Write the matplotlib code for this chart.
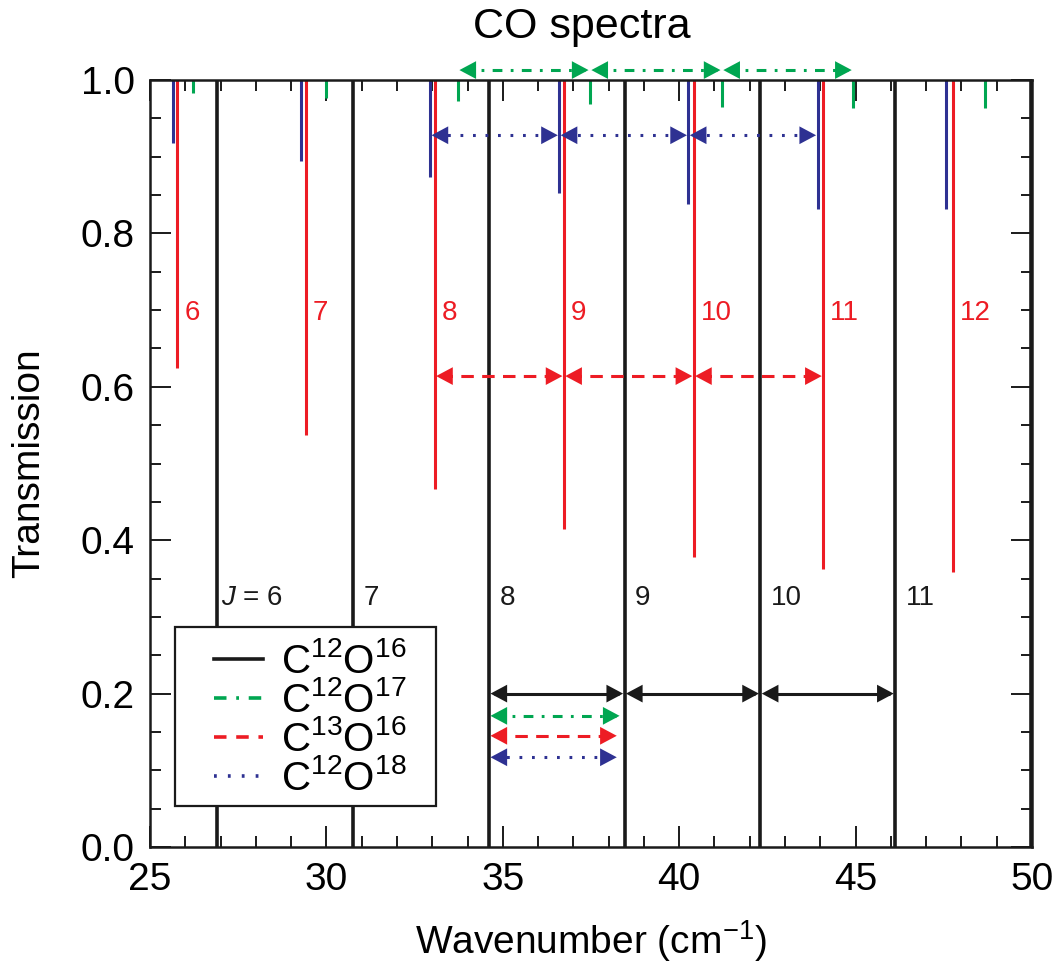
import numpy as np
import matplotlib
matplotlib.use("Agg")
import matplotlib.pyplot as plt
from matplotlib.ticker import MultipleLocator
from matplotlib.patches import Rectangle

plt.rcParams.update({
    "font.family": ["Liberation Sans", "DejaVu Sans"],
    "mathtext.fontset": "custom",
    "mathtext.rm": "Liberation Sans",
    "mathtext.it": "Liberation Sans:italic",
    "lines.scale_dashes": False,
})

# Data (wavenumbers in cm^-1, line-centre transmission)
j_values = [6, 7, 8, 9, 10, 11, 12]

c12o16_nu = [26.90, 30.76, 34.61, 38.45, 42.30, 46.12, 49.97]
c12o16_min = [0.0, 0.0, 0.0, 0.0, 0.0, 0.0, 0.0]

c12o17_nu = [26.22, 29.99, 33.73, 37.47, 41.21, 44.93, 48.67]
c12o17_min = [0.983, 0.977, 0.973, 0.969, 0.965, 0.964, 0.964]

c13o16_nu = [25.77, 29.41, 33.07, 36.73, 40.41, 44.08, 47.75]
c13o16_min = [0.625, 0.537, 0.467, 0.415, 0.378, 0.362, 0.358]

c12o18_nu = [25.64, 29.28, 32.94, 36.60, 40.26, 43.92, 47.57]
c12o18_min = [0.918, 0.895, 0.873, 0.853, 0.839, 0.832, 0.832]

# which lines get spacing arrows (indices into the arrays above)
arrow_idx = [2, 3, 4, 5]
black_arrow_y = 0.20
green_arrow_y = 1.013
red_arrow_y = 0.614
blue_arrow_y = 0.928
compare_y = {"green": 0.171, "red": 0.145, "blue": 0.117}

BLACK = "#1a1a1a"
GREEN = "#00a651"
RED = "#ed1c24"
BLUE = "#2e3192"

fig = plt.figure(figsize=(10.55, 9.69), dpi=100)
ax = fig.add_axes([0.1422, 0.1259, 0.8360, 0.7915])

ax.vlines(c12o16_nu, c12o16_min, 1.0, color=BLACK, lw=2.6)
ax.vlines(c12o17_nu, c12o17_min, 1.0, color=GREEN, lw=2.2)
ax.vlines(c12o18_nu, c12o18_min, 1.0, color=BLUE, lw=2.2)
ax.vlines(c13o16_nu, c13o16_min, 1.0, color=RED, lw=2.2)

styles = {
    "black": (BLACK, "-"),
    "green": (GREEN, (0, (7, 6, 2, 6))),
    "red": (RED, (0, (9, 6))),
    "blue": (BLUE, (0, (2, 7))),
}


def spacing_arrow(x0, x1, y, key):
    color, ls = styles[key]
    ax.plot([x0 + 0.15, x1 - 0.15], [y, y], color=color, ls=ls, lw=2.2,
            clip_on=False, solid_capstyle="butt", dash_capstyle="butt")
    ax.annotate("", xy=(x1 - 0.04, y), xytext=(x0 + 0.04, y),
                arrowprops=dict(arrowstyle="<|-|>,head_length=0.6,head_width=0.32",
                                color=color, lw=0, shrinkA=0, shrinkB=0,
                                mutation_scale=20),
                annotation_clip=False)


for a, b in zip(arrow_idx[:-1], arrow_idx[1:]):
    spacing_arrow(c12o16_nu[a], c12o16_nu[b], black_arrow_y, "black")
for a, b in zip(arrow_idx[:-1], arrow_idx[1:]):
    spacing_arrow(c12o17_nu[a], c12o17_nu[b], green_arrow_y, "green")
for a, b in zip(arrow_idx[:-1], arrow_idx[1:]):
    spacing_arrow(c13o16_nu[a], c13o16_nu[b], red_arrow_y, "red")
for a, b in zip(arrow_idx[:-1], arrow_idx[1:]):
    spacing_arrow(c12o18_nu[a], c12o18_nu[b], blue_arrow_y, "blue")

# isotope spacings laid against the first C12O16 interval
start = c12o16_nu[2]
spacing_arrow(start, start + c12o17_nu[3] - c12o17_nu[2], compare_y["green"], "green")
spacing_arrow(start, start + c13o16_nu[3] - c13o16_nu[2], compare_y["red"], "red")
spacing_arrow(start, start + c12o18_nu[3] - c12o18_nu[2], compare_y["blue"], "blue")

# J labels
for j, nu in zip(j_values, c13o16_nu):
    ax.text(nu + 0.2, 0.696, str(j), color=RED, fontsize=20, ha="left", va="center")
for j, nu in zip(j_values[:-1], c12o16_nu[:-1]):
    lab = "$J$ = 6" if j == 6 else str(j)
    off = 0.1 if j == 6 else 0.3
    ax.text(nu + off, 0.325, lab, color=BLACK, fontsize=20, ha="left", va="center")

# legend
h1, = ax.plot([], [], color=BLACK, lw=2.6, label=r"C$^{\mathregular{12}}$O$^{\mathregular{16}}$")
h2, = ax.plot([], [], color=GREEN, lw=2.6, ls=(0, (9, 7, 2, 7)), label=r"C$^{\mathregular{12}}$O$^{\mathregular{17}}$")
h3, = ax.plot([], [], color=RED, lw=2.6, ls=(0, (9, 7)), label=r"C$^{\mathregular{13}}$O$^{\mathregular{16}}$")
h4, = ax.plot([], [], color=BLUE, lw=2.6, ls=(0, (2, 8)), label=r"C$^{\mathregular{12}}$O$^{\mathregular{18}}$")
ax.add_patch(Rectangle((0.028, 0.053), 0.296, 0.234, transform=ax.transAxes,
                       facecolor="white", edgecolor=BLACK, lw=1.6, zorder=4))
leg = ax.legend(handles=[h1, h2, h3, h4], loc="center left",
                bbox_to_anchor=(0.072, 0.165), fontsize=29, frameon=False,
                handlelength=1.22, handletextpad=0.45,
                labelspacing=0.0, borderpad=0, borderaxespad=0)
leg.set_zorder(5)

ax.set_xlim(25, 50)
ax.set_ylim(0, 1.0)
ax.xaxis.set_major_locator(MultipleLocator(5))
ax.xaxis.set_minor_locator(MultipleLocator(1))
ax.yaxis.set_major_locator(MultipleLocator(0.2))
ax.yaxis.set_minor_locator(MultipleLocator(0.05))
ax.yaxis.set_major_formatter(matplotlib.ticker.FormatStrFormatter("%.1f"))
ax.tick_params(which="both", direction="in", top=True, right=True, width=1.4,
               color=BLACK)
ax.tick_params(which="major", length=15, labelsize=28, pad=11)
ax.tick_params(which="minor", length=8)
for s in ax.spines.values():
    s.set_linewidth(1.8)
    s.set_color(BLACK)

ax.set_title("CO spectra", fontsize=31, pad=30, x=0.49)
ax.set_xlabel("Wavenumber (cm$^{\\mathregular{-1}}$)", fontsize=28, labelpad=14)
ax.set_ylabel("Transmission", fontsize=28, labelpad=24)

fig.savefig("out.png", dpi=100)
